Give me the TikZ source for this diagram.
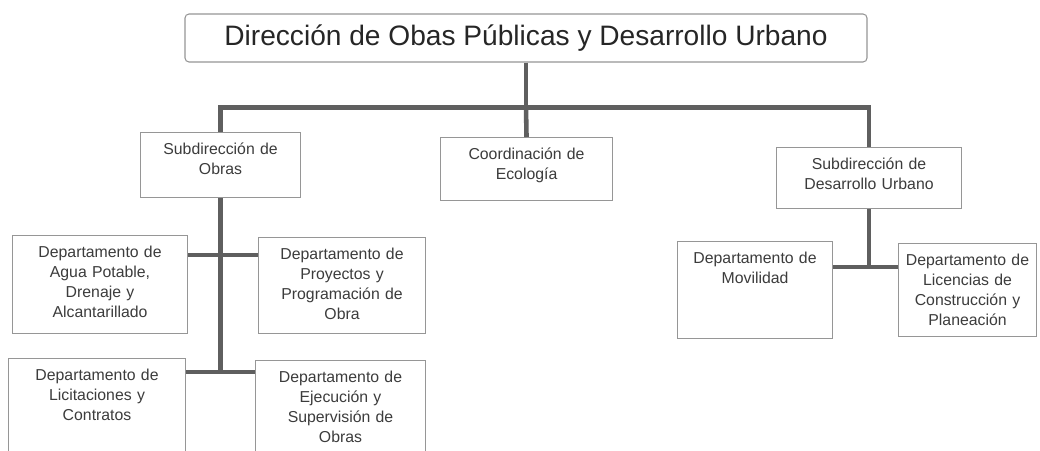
\documentclass[tikz,border=0pt]{standalone}
\usepackage{fontspec}
\setmainfont{Liberation Sans}
\usepackage{xcolor}
\usetikzlibrary{positioning}
\usetikzlibrary{calc}
\definecolor{linkgray}{RGB}{95,95,95}
\definecolor{boxgray}{RGB}{150,150,150}
\definecolor{txtgray}{RGB}{60,60,60}

\begin{document}
\begin{tikzpicture}[x=0.2mm, y=-0.2mm,
  head/.style={draw=boxgray, line width=0.6pt, rounded corners=0.8mm, inner sep=0pt, minimum width=136.4mm, minimum height=9.6mm, text=black!85, font=\fontsize{16}{19}\selectfont},
  unit/.style={draw=boxgray, line width=0.6pt, inner sep=0pt, align=center, anchor=north west, text=txtgray, font=\fontsize{9}{11.34}\selectfont, text height=4.4mm},
  link/.style={draw=linkgray, line width=2.6pt}]
\useasboundingbox (0,0) rectangle (1040,451);
\clip (0,0) rectangle (1040,451);
\fill[white] (0,0) rectangle (1040,451);

\node[head] (dir) at (526,38) {Dirección de Obas Públicas y Desarrollo Urbano};

\node[unit, text width=32mm, text depth=8.6mm] (obras) at (140,132) {Subdirección de\\Obras};
\node[unit, text width=34.4mm, text depth=8.2mm] (ecologia) at (440,137) {Coordinación de\\Ecología};
\node[unit, text width=37mm, text depth=7.8mm] (urbano) at (776,147) {Subdirección de\\Desarrollo Urbano};

\node[unit, text width=35mm, text depth=15.2mm] (agua) at (12,235) {Departamento de\\Agua Potable,\\Drenaje y\\Alcantarillado};
\node[unit, text width=33.4mm, text depth=14.8mm] (proyectos) at (258,237) {Departamento de\\Proyectos y\\Programación de\\Obra};
\node[unit, text width=35.4mm, text depth=17.6mm] (licit) at (8,358) {Departamento de\\Licitaciones y\\Contratos};
\node[unit, text width=34mm, text depth=17.6mm] (ejec) at (255,360) {Departamento de\\Ejecución y\\Supervisión de\\Obras};

\node[unit, text width=31mm, text depth=15mm] (movil) at (677,241) {Departamento de\\Movilidad};
\node[unit, text width=27.6mm, text depth=14.2mm] (licen) at (898,243) {Departamento de\\Licencias de\\Construcción y\\Planeación};

\coordinate (bus) at ([yshift=-9mm]dir.south);
\draw[link] (dir.south) -- (bus);
\draw[link] (obras.north) |- (bus) -| (urbano.north);
\draw[link] (bus) -- (ecologia.north);

\coordinate (j1) at ([yshift=-4mm]agua.north east);
\coordinate (j2) at ([yshift=-2.8mm]licit.north east);
\draw[link] (obras.south) -- (obras.south |- j2);
\draw[link] (j1) -- (j1 -| proyectos.west);
\draw[link] (j2) -- (j2 -| ejec.west);

\coordinate (j3) at ([yshift=-5.2mm]movil.north east);
\draw[link] (urbano.south) -- (urbano.south |- j3);
\draw[link] (j3) -- (j3 -| licen.west);
\end{tikzpicture}
\end{document}
